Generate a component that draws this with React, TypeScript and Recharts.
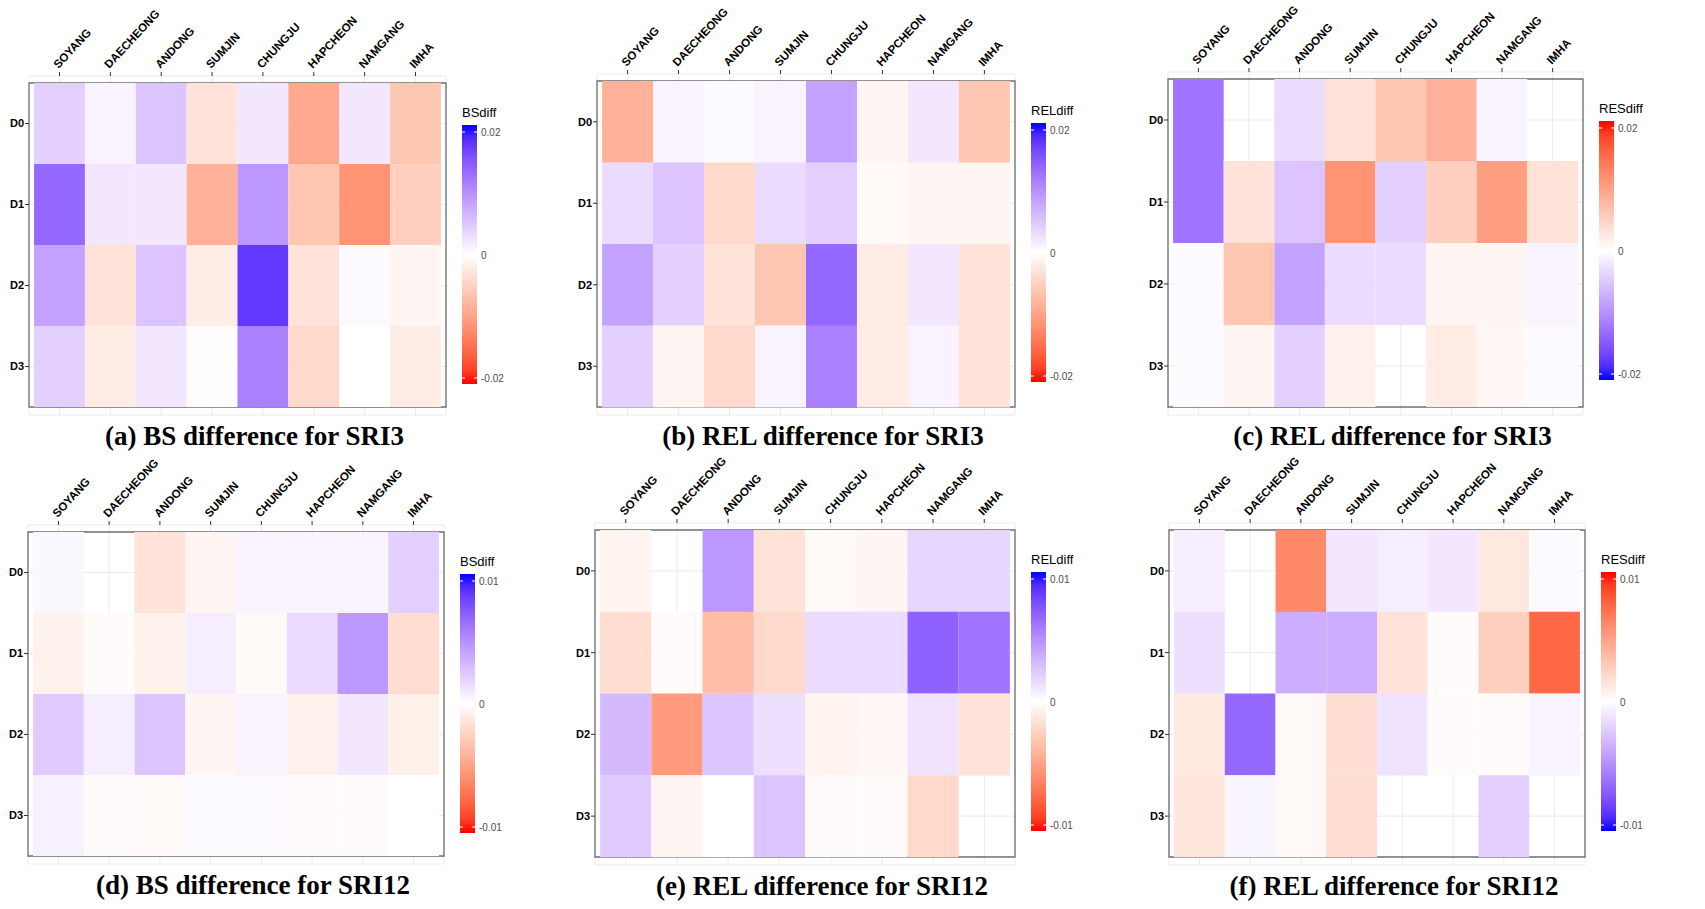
import React from 'react'
import { BarChart, Bar, XAxis, YAxis, CartesianGrid, Cell, ReferenceArea } from 'recharts'

const STATIONS = ['SOYANG', 'DAECHEONG', 'ANDONG', 'SUMJIN', 'CHUNGJU', 'HAPCHEON', 'NAMGANG', 'IMHA']
const ROWS = ['D0', 'D1', 'D2', 'D3']
const STATION_TICKS = [0.5, 1.5, 2.5, 3.5, 4.5, 5.5, 6.5, 7.5]

// values per row (D0..D3), one per station; null = no tile
const bsSri3 = [
  [0.004, 0.001, 0.005, -0.003, 0.002, -0.009, 0.002, -0.006],
  [0.013, 0.002, 0.002, -0.008, 0.009, -0.006, -0.011, -0.005],
  [0.008, -0.003, 0.005, -0.002, 0.017, -0.003, 0.0005, -0.001],
  [0.004, -0.002, 0.002, -0.0002, 0.011, -0.004, 0, -0.002],
]
const relSri3 = [
  [-0.008, 0.001, 0.0005, 0.001, 0.008, -0.001, 0.002, -0.006],
  [0.003, 0.005, -0.004, 0.003, 0.004, -0.0005, -0.001, -0.001],
  [0.008, 0.004, -0.003, -0.006, 0.013, -0.002, 0.002, -0.003],
  [0.004, -0.001, -0.004, 0.001, 0.011, -0.002, 0.001, -0.003],
]
const resSri3 = [
  [-0.012, null, -0.003, 0.003, 0.006, 0.008, -0.001, null],
  [-0.012, 0.003, -0.005, 0.011, -0.004, 0.005, 0.010, 0.003],
  [-0.0003, 0.006, -0.008, -0.003, -0.003, 0.001, 0.001, -0.001],
  [-0.0003, 0.001, -0.004, 0.0015, null, 0.002, 0.0007, -0.0005],
]
const bsSri12 = [
  [0.0003, null, -0.0015, -0.0005, 0.0005, 0.0005, 0.0005, 0.002],
  [-0.0007, -0.0002, -0.0007, 0.0007, -0.0003, 0.0015, 0.0045, -0.0018],
  [0.0022, 0.0007, 0.0025, -0.0005, 0.0005, -0.0007, 0.001, -0.0008],
  [0.0006, -0.0002, -0.0003, 0.0002, 0.0002, -0.0002, -0.0002, 0],
]
const relSri12 = [
  [-0.0006, null, 0.0045, -0.0015, -0.0003, -0.0005, 0.0018, 0.0018],
  [-0.0018, -0.0002, -0.0035, -0.002, 0.0015, 0.0015, 0.0068, 0.006],
  [0.003, -0.0052, 0.0025, 0.0013, -0.0006, -0.0004, 0.0012, -0.0015],
  [0.0022, -0.0005, 0, 0.0025, -0.0002, -0.0002, -0.002, null],
]
const resSri12 = [
  [-0.0007, null, 0.006, -0.001, -0.0007, -0.001, 0.0012, -0.0002],
  [-0.0013, null, -0.0035, -0.0035, 0.0015, 0.0002, 0.0025, 0.0075],
  [0.0012, -0.0065, 0.0003, 0.0017, -0.0012, 0.0002, 0.0002, -0.0005],
  [0.0013, -0.0004, 0.0003, 0.0017, null, null, -0.002, null],
]

// ---- Lab interpolation like ggplot's scale_fill_gradient2 ----
const toLin = (c: number) => {
  c /= 255
  return c <= 0.04045 ? c / 12.92 : Math.pow((c + 0.055) / 1.055, 2.4)
}
const fLab = (t: number) => (t > 0.008856 ? Math.cbrt(t) : 7.787 * t + 16 / 116)
function rgbToLab([r, g, b]: number[]) {
  const R = toLin(r), G = toLin(g), B = toLin(b)
  const X = (0.4124564 * R + 0.3575761 * G + 0.1804375 * B) / 0.95047
  const Y = 0.2126729 * R + 0.7151522 * G + 0.072175 * B
  const Z = (0.0193339 * R + 0.119192 * G + 0.9503041 * B) / 1.08883
  const fx = fLab(X), fy = fLab(Y), fz = fLab(Z)
  return [116 * fy - 16, 500 * (fx - fy), 200 * (fy - fz)]
}
const fInv = (f: number) => (f * f * f > 0.008856 ? f * f * f : (f - 16 / 116) / 7.787)
function labToHex([L, a, b]: number[]) {
  const fy = (L + 16) / 116
  const X = fInv(fy + a / 500) * 0.95047
  const Y = fInv(fy)
  const Z = fInv(fy - b / 200) * 1.08883
  const lin = [
    3.2404542 * X - 1.5371385 * Y - 0.4985314 * Z,
    -0.969266 * X + 1.8760108 * Y + 0.041556 * Z,
    0.0556434 * X - 0.2040259 * Y + 1.0572252 * Z,
  ]
  return '#' + lin
    .map((c) => {
      const v = c <= 0.0031308 ? 12.92 * c : 1.055 * Math.pow(c, 1 / 2.4) - 0.055
      return Math.round(Math.min(1, Math.max(0, v)) * 255).toString(16).padStart(2, '0')
    })
    .join('')
}
const LAB_WHITE = rgbToLab([255, 255, 255])
const LAB_BLUE = rgbToLab([0, 0, 255])
const LAB_RED = rgbToLab([255, 0, 0])

function divColor(v: number, limit: number, highIsRed: boolean) {
  const t = Math.max(-1, Math.min(1, v / limit))
  const hi = highIsRed ? LAB_RED : LAB_BLUE
  const lo = highIsRed ? LAB_BLUE : LAB_RED
  const end = t >= 0 ? hi : lo
  const k = Math.abs(t)
  return labToHex(LAB_WHITE.map((w, i) => w + (end[i] - w) * k))
}

interface PanelSpec {
  values: (number | null)[][]
  limit: number
  legendTitle: string
  highIsRed: boolean
  caption: string
  left: number
  top: number
  w: number
  h: number
}

const PANELS: PanelSpec[] = [
  { values: bsSri3, limit: 0.02, legendTitle: 'BSdiff', highIsRed: false, caption: '(a) BS difference for SRI3', left: 29, top: 76, w: 417, h: 339 },
  { values: relSri3, limit: 0.02, legendTitle: 'RELdiff', highIsRed: false, caption: '(b) REL difference for SRI3', left: 597, top: 74, w: 418, h: 341 },
  { values: resSri3, limit: 0.02, legendTitle: 'RESdiff', highIsRed: true, caption: '(c) REL difference for SRI3', left: 1168, top: 72, w: 415, h: 343 },
  { values: bsSri12, limit: 0.01, legendTitle: 'BSdiff', highIsRed: false, caption: '(d) BS difference for SRI12', left: 28, top: 525, w: 416, h: 339 },
  { values: relSri12, limit: 0.01, legendTitle: 'RELdiff', highIsRed: false, caption: '(e) REL difference for SRI12', left: 595, top: 523, w: 420, h: 342 },
  { values: resSri12, limit: 0.01, legendTitle: 'RESdiff', highIsRed: true, caption: '(f) REL difference for SRI12', left: 1169, top: 523, w: 416, h: 342 },
]

const SANS = 'Arial, "Liberation Sans", sans-serif'

const StationTick = (props: any) => {
  const { x, y, payload } = props
  const label = STATIONS[Math.round(payload.value - 0.5)]
  return (
    <text
      x={x - 1}
      y={y - 1}
      transform={`rotate(-47, ${x - 1}, ${y - 1})`}
      textAnchor="start"
      fontSize={11.5}
      fontWeight="bold"
      fontFamily={SANS}
      fill="#000"
    >
      {label}
    </text>
  )
}

function ColorBar({ p }: { p: PanelSpec }) {
  const barH = 259
  const stops = Array.from({ length: 21 }, (_, i) => {
    const v = p.limit * (1 - (2 * i) / 20)
    return { off: i / 20, color: divColor(v, p.limit, p.highIsRed) }
  })
  const labelY = (v: number) => 20 + 7 + ((p.limit - v) / (2 * p.limit)) * (barH - 13)
  const id = 'grad-' + p.caption.slice(1, 2)
  return (
    <svg
      width={70}
      height={300}
      style={{ position: 'absolute', left: p.left + p.w + 16, top: p.top + 29 }}
    >
      <defs>
        <linearGradient id={id} x1="0" y1="0" x2="0" y2="1">
          {stops.map((s) => (
            <stop key={s.off} offset={s.off} stopColor={s.color} />
          ))}
        </linearGradient>
      </defs>
      <text x={0} y={12} fontSize={13} fontFamily={SANS} fill="#000">
        {p.legendTitle}
      </text>
      <rect x={0} y={20} width={15} height={barH} fill={`url(#${id})`} />
      {[p.limit, 0, -p.limit].map((v) => (
        <g key={v}>
          <line x1={0} x2={3} y1={labelY(v)} y2={labelY(v)} stroke="#fff" />
          <line x1={12} x2={15} y1={labelY(v)} y2={labelY(v)} stroke="#fff" />
          <text x={19} y={labelY(v) + 3.5} fontSize={10} fontFamily={SANS} fill="#4d4d4d">
            {v === 0 ? '0' : String(v)}
          </text>
        </g>
      ))}
    </svg>
  )
}

function Heatmap({ p }: { p: PanelSpec }) {
  const mTop = 10
  const axisH = p.top - mTop
  const yAxisW = 22
  const mLeft = p.left - yAxisW
  const W = p.left + p.w + 10
  const H = p.top + p.h + 10
  const rows = ROWS.map((r, ri) => {
    const o: any = { row: r }
    STATIONS.forEach((s, si) => {
      o[s] = 1
      o[s + '_v'] = p.values[ri][si]
    })
    return o
  })
  return (
    <BarChart
      width={W}
      height={H}
      data={rows}
      layout="vertical"
      barCategoryGap={0}
      margin={{ top: mTop, left: mLeft, right: 10, bottom: 10 }}
      style={{ position: 'absolute', left: 0, top: 0 }}
    >
      <CartesianGrid stroke="#ebebeb" strokeWidth={1} />
      <XAxis
        type="number"
        orientation="top"
        domain={[-0.1, 8.1]}
        ticks={STATION_TICKS}
        allowDataOverflow
        height={axisH}
        tick={<StationTick />}
        tickSize={4}
        tickLine={{ stroke: '#333' }}
        axisLine={false}
        interval={0}
      />
      <YAxis
        type="category"
        dataKey="row"
        width={yAxisW}
        padding={{ top: 7, bottom: 8 }}
        tick={{ fontSize: 11, fontWeight: 'bold', fill: '#000', fontFamily: SANS }}
        tickSize={4}
        tickMargin={1}
        tickLine={{ stroke: '#333' }}
        axisLine={false}
      />
      {STATIONS.map((s, si) => (
        <Bar key={s} dataKey={s} stackId="tiles" isAnimationActive={false}>
          {rows.map((r, ri) => {
            const v = p.values[ri][si]
            return (
              <Cell key={ri} fill={v === null ? 'none' : divColor(v, p.limit, p.highIsRed)} />
            )
          })}
        </Bar>
      ))}
      <ReferenceArea x1={-0.1} x2={8.1} fill="none" stroke="#6e6e6e" strokeWidth={1.3} ifOverflow="visible" />
    </BarChart>
  )
}

export default function App() {
  return (
    <div
      style={{
        position: 'absolute',
        left: 0,
        top: 0,
        width: 1705,
        height: 909,
        background: '#fff',
        overflow: 'hidden',
      }}
    >
      {PANELS.map((p) => (
        <React.Fragment key={p.caption}>
          <Heatmap p={p} />
          <ColorBar p={p} />
          <div
            style={{
              position: 'absolute',
              left: p.left + p.w / 2 + 17 - 250,
              width: 500,
              top: p.top + p.h + 6,
              textAlign: 'center',
              fontFamily: '"Liberation Serif", "Times New Roman", serif',
              fontWeight: 'bold',
              fontSize: 27,
              lineHeight: '31px',
              color: '#000',
            }}
          >
            {p.caption}
          </div>
        </React.Fragment>
      ))}
    </div>
  )
}
